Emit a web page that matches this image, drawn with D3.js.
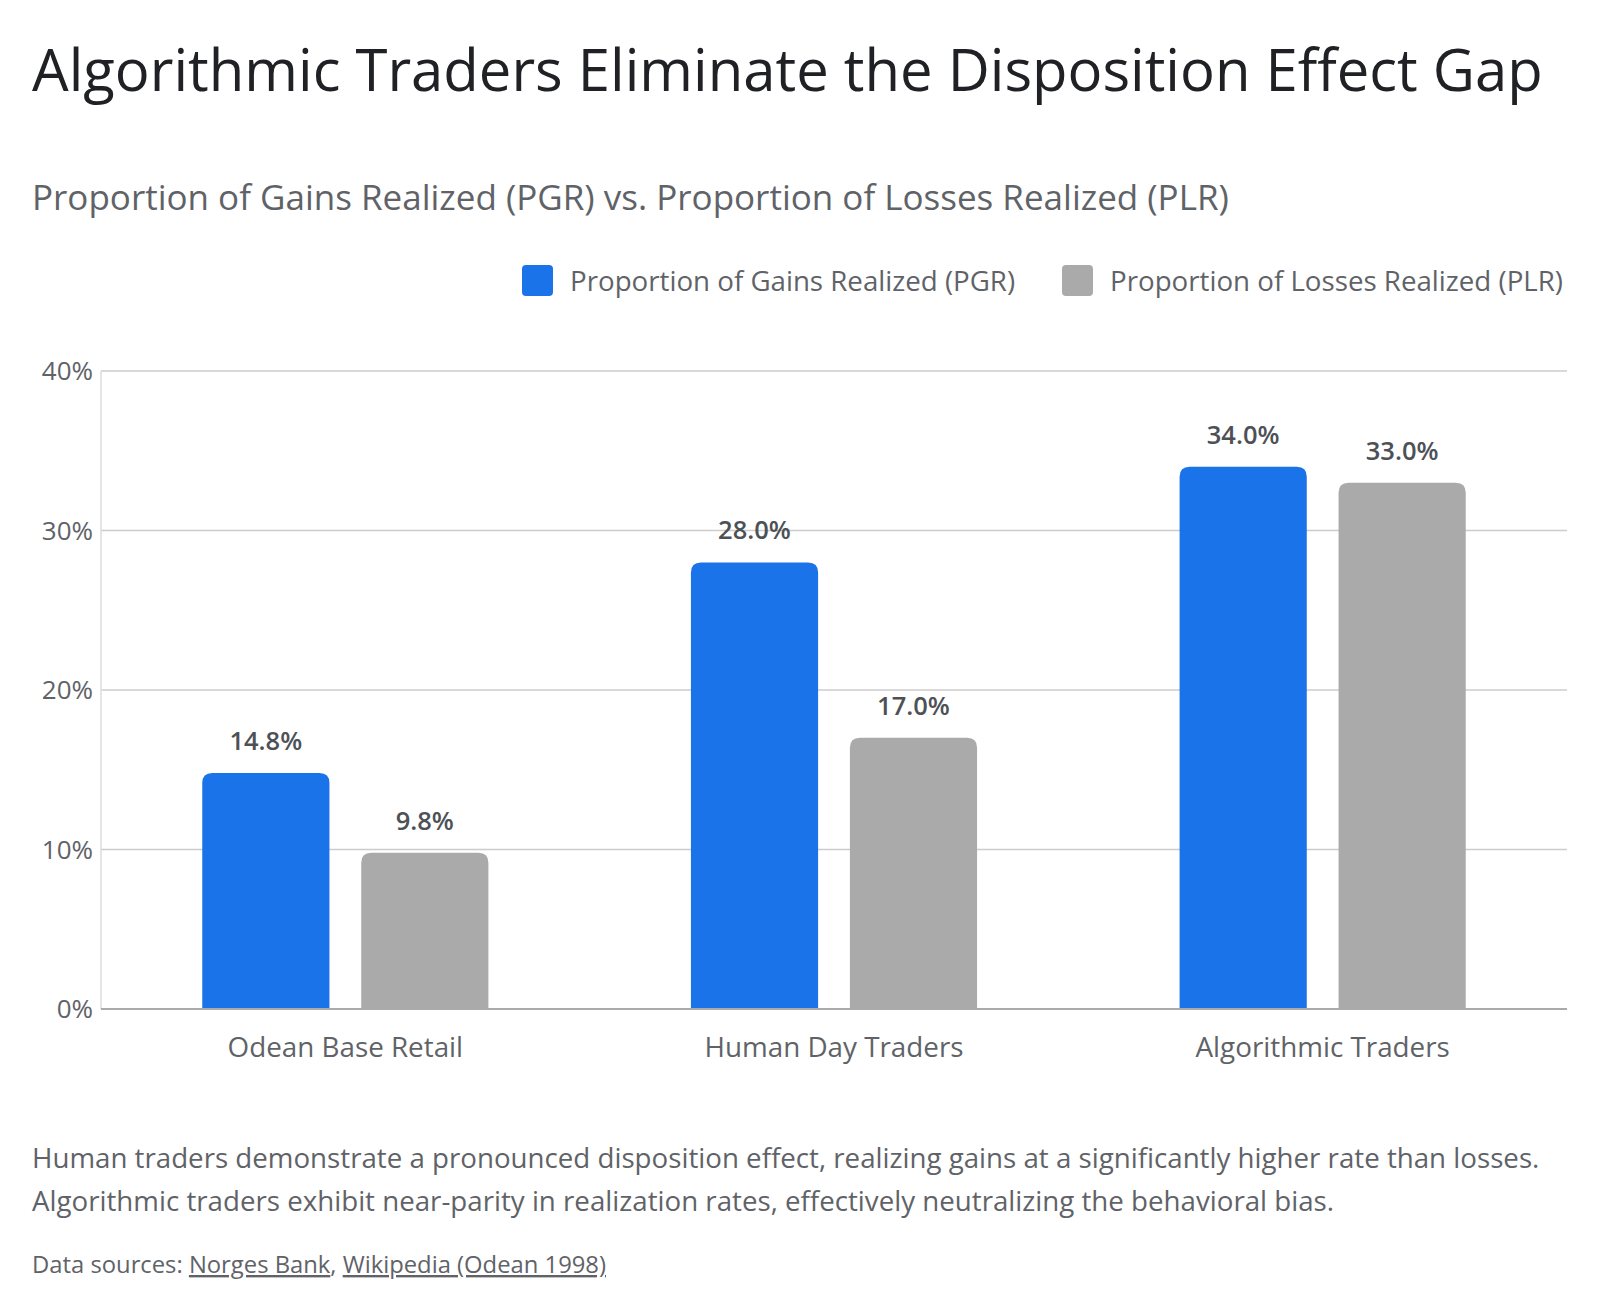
<!DOCTYPE html>
<html>
<head>
<meta charset="utf-8">
<script src="https://cdn.jsdelivr.net/npm/d3@7"></script>
<style>
  html, body { margin: 0; padding: 0; background: #fff; }
  svg text { font-family: "Open Sans", Roboto, sans-serif; }
</style>
</head>
<body>
<svg id="chart" width="1600" height="1314"></svg>
<script>
// categories and series
var categories = ["Odean Base Retail", "Human Day Traders", "Algorithmic Traders"];
var seriesNames = ["Proportion of Gains Realized (PGR)", "Proportion of Losses Realized (PLR)"];
var pgrValues = [14.8, 28.0, 34.0];
var plrValues = [9.8, 17.0, 33.0];
var yTicks = [0, 10, 20, 30, 40];

var colors = ["#1a73e8", "#aaaaaa"];

var svg = d3.select("#chart");

var margin = {top: 371, right: 33, bottom: 305, left: 101},
    width = 1600 - margin.left - margin.right,
    height = 1314 - margin.top - margin.bottom;

// title + subtitle
svg.append("text")
  .attr("x", 32).attr("y", 91)
  .attr("fill", "#202124")
  .attr("font-size", 58)
  .text("Algorithmic Traders Eliminate the Disposition Effect Gap");

svg.append("text")
  .attr("x", 32).attr("y", 210)
  .attr("fill", "#5f6368")
  .attr("font-size", 35)
  .text("Proportion of Gains Realized (PGR) vs. Proportion of Losses Realized (PLR)");

// legend
var legendPos = [522, 1062];
var legend = svg.append("g")
  .selectAll("g")
  .data(seriesNames)
  .enter().append("g")
    .attr("transform", function(d, i) { return "translate(" + legendPos[i] + ",265)"; });

legend.append("rect")
  .attr("width", 31).attr("height", 31)
  .attr("rx", 4)
  .attr("fill", function(d, i) { return colors[i]; });

legend.append("text")
  .attr("x", 48).attr("y", 16)
  .attr("dy", "0.35em")
  .attr("font-size", 27.7)
  .attr("fill", "#5f6368")
  .text(function(d) { return d; });

var g = svg.append("g")
  .attr("transform", "translate(" + margin.left + "," + margin.top + ")");

// scales
var x0 = d3.scaleBand()
  .domain(categories)
  .range([0, width]);

var x1 = d3.scaleBand()
  .domain(seriesNames)
  .range([0, x0.bandwidth()])
  .paddingInner(0.2)
  .paddingOuter(0.637);

var y = d3.scaleLinear()
  .domain([0, 40])
  .range([height, 0]);

// gridlines
g.append("g")
  .selectAll("line")
  .data(yTicks.slice(1))
  .enter().append("line")
    .attr("x1", 0).attr("x2", width)
    .attr("y1", function(d) { return y(d); })
    .attr("y2", function(d) { return y(d); })
    .attr("stroke", "#cccccc")
    .attr("stroke-width", 1.5);

// y axis line
g.append("line")
  .attr("x1", 0).attr("x2", 0)
  .attr("y1", 0).attr("y2", height)
  .attr("stroke", "#dddddd")
  .attr("stroke-width", 1.5);

// y tick labels
g.append("g")
  .selectAll("text")
  .data(yTicks)
  .enter().append("text")
    .attr("x", -8)
    .attr("y", function(d) { return y(d); })
    .attr("dy", "0.35em")
    .attr("text-anchor", "end")
    .attr("font-size", 26)
    .attr("fill", "#5f6368")
    .text(function(d) { return d + "%"; });

// bars, rounded top
function topRounded(x, yTop, w, h, r) {
  r = Math.min(r, h, w / 2);
  return "M" + x + "," + (yTop + h) +
    "V" + (yTop + r) +
    "Q" + x + "," + yTop + " " + (x + r) + "," + yTop +
    "H" + (x + w - r) +
    "Q" + (x + w) + "," + yTop + " " + (x + w) + "," + (yTop + r) +
    "V" + (yTop + h) + "Z";
}

var rows = categories.map(function(c, i) {
  return {cat: c, vals: [pgrValues[i], plrValues[i]]};
});

var groups = g.append("g")
  .selectAll("g")
  .data(rows)
  .enter().append("g")
    .attr("transform", function(d) { return "translate(" + x0(d.cat) + ",0)"; });

var cells = groups.selectAll("g")
  .data(function(d) { return d.vals.map(function(v, i) { return {series: seriesNames[i], value: v, i: i}; }); })
  .enter().append("g");

cells.append("path")
  .attr("d", function(d) {
    return topRounded(x1(d.series), y(d.value), x1.bandwidth(), height - y(d.value), 10);
  })
  .attr("fill", function(d) { return colors[d.i]; });

cells.append("text")
  .attr("x", function(d) { return x1(d.series) + x1.bandwidth() / 2; })
  .attr("y", function(d) { return y(d.value) - 23; })
  .attr("text-anchor", "middle")
  .attr("font-size", 25.5)
  .attr("font-weight", 600)
  .attr("fill", "#4d5156")
  .text(function(d) { return d.value.toFixed(1) + "%"; });

// baseline
g.append("line")
  .attr("x1", 0).attr("x2", width)
  .attr("y1", height).attr("y2", height)
  .attr("stroke", "#aaaaaa")
  .attr("stroke-width", 2);

// x labels
g.append("g")
  .selectAll("text")
  .data(categories)
  .enter().append("text")
    .attr("x", function(d) { return x0(d) + x0.bandwidth() / 2; })
    .attr("y", height + 38)
    .attr("dy", "0.35em")
    .attr("text-anchor", "middle")
    .attr("font-size", 27.8)
    .attr("fill", "#5f6368")
    .text(function(d) { return d; });

// notes
var notes = [
  "Human traders demonstrate a pronounced disposition effect, realizing gains at a significantly higher rate than losses.",
  "Algorithmic traders exhibit near-parity in realization rates, effectively neutralizing the behavioral bias."
];
svg.append("g")
  .selectAll("text")
  .data(notes)
  .enter().append("text")
    .attr("x", 32)
    .attr("y", function(d, i) { return 1168 + i * 43; })
    .attr("font-size", 27.7)
    .attr("fill", "#5f6368")
    .text(function(d) { return d; });

var src = svg.append("text")
  .attr("x", 32).attr("y", 1273)
  .attr("font-size", 23.8)
  .attr("fill", "#5f6368");
src.append("tspan").text("Data sources: ");
src.append("tspan").attr("text-decoration", "underline").text("Norges Bank");
src.append("tspan").text(", ");
src.append("tspan").attr("text-decoration", "underline").text("Wikipedia (Odean 1998)");
</script>
</body>
</html>
